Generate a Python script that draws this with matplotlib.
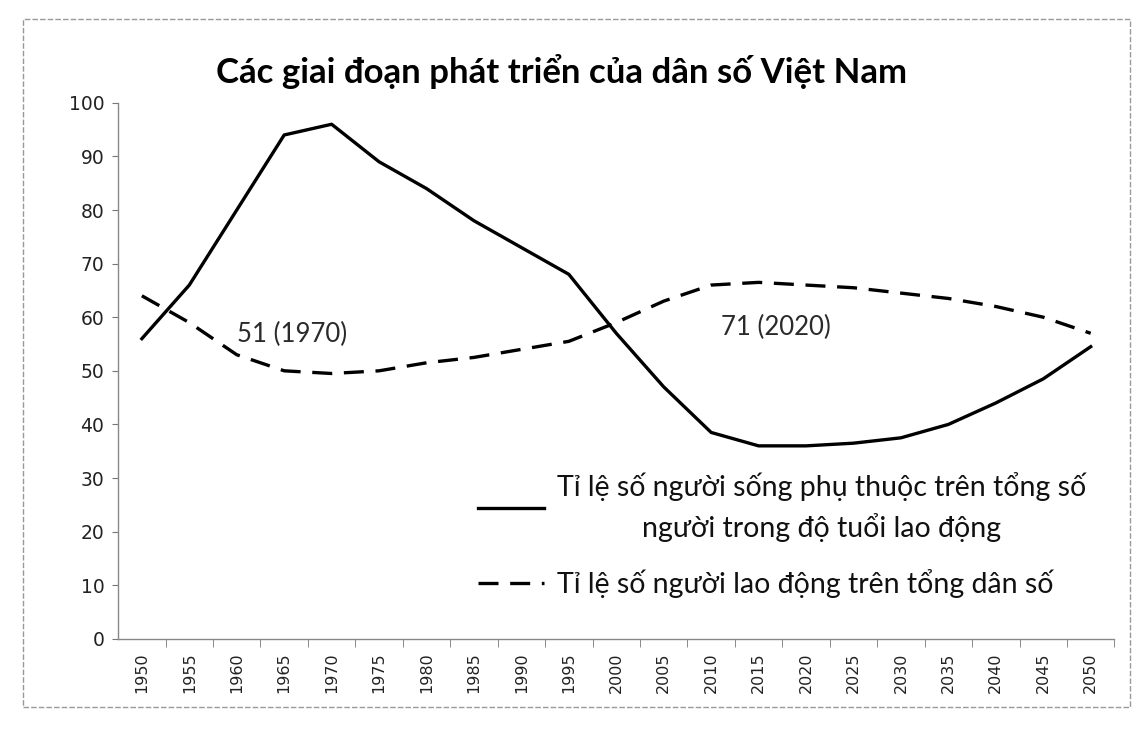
import matplotlib.pyplot as plt
from matplotlib.patches import Rectangle

years = ['1950', '1955', '1960', '1965', '1970', '1975', '1980', '1985', '1990', '1995', '2000',
         '2005', '2010', '2015', '2020', '2025', '2030', '2035', '2040', '2045', '2050']
# ti le phu thuoc (duong lien) va ti le lao dong (duong dut)
dependency = [56, 66, 80, 94, 96, 89, 84, 78, 73, 68, 57,
              47, 38.5, 36, 36, 36.5, 37.5, 40, 44, 48.5, 54.5]
labour = [64, 59, 53, 50, 49.5, 50, 51.5, 52.5, 54, 55.5, 59,
          63, 66, 66.5, 66, 65.5, 64.5, 63.5, 62, 60, 57]

title = 'Các giai đoạn phát triển của dân số Việt Nam'
label_dep = 'Tỉ lệ số người sống phụ thuộc trên tổng số\nngười trong độ tuổi lao động'
label_lab = 'Tỉ lệ số người lao động trên tổng dân số'
notes = ['51 (1970)', '71 (2020)']
note_pos = [(2.0, 56.7), (12.2, 58.0)]

plt.rcParams['font.family'] = ['Lato', 'DejaVu Sans']

fig = plt.figure(figsize=(11.36, 7.56), dpi=100)
ax = fig.add_axes([0.104, 0.155, 0.877, 0.709])

x = range(len(years))
ax.plot(x, dependency, color='black', lw=2.4, label=label_dep)
ax.plot(x, labour, color='black', lw=2.4, linestyle=(0, (6, 3.5)), label=label_lab)

for txt, (px, py) in zip(notes, note_pos):
    ax.text(px, py, txt, fontsize=18.5, va='center', ha='left', color='#2a2a2a')

ax.set_xlim(-0.5, len(years) - 0.5)
ax.set_ylim(0, 100)
ax.set_yticks(range(0, 101, 10))
ax.set_yticklabels([str(v) for v in range(0, 101, 10)], family='DejaVu Sans', fontsize=13.5, color='#222222')
ax.set_xticks(list(x))
ax.set_xticklabels(years, rotation=90, family='DejaVu Sans', fontsize=11.5, color='#222222')
ax.set_xticks([i + 0.5 for i in range(len(years))], minor=True)
ax.tick_params(axis='x', which='major', length=0, pad=10)
ax.tick_params(axis='x', which='minor', length=6, color='#777777', direction='out')
ax.tick_params(axis='y', length=4, color='#777777', pad=6)

for s in ['top', 'right']:
    ax.spines[s].set_visible(False)
for s in ['left', 'bottom']:
    ax.spines[s].set_color('#888888')
    ax.spines[s].set_linewidth(1.0)

leg = ax.legend(loc='lower right', bbox_to_anchor=(0.997, 0.028), frameon=False,
                fontsize=20.5, handlelength=2.3, handletextpad=0.45, labelspacing=0.95)
for t in leg.get_texts():
    t.set_multialignment('center')
    t.set_linespacing(1.5)
    t.set_color('#111111')

fig.text(0.494, 0.905, title, ha='center', va='center', fontsize=25, fontweight='bold')

# khung bao ngoai
fig.patches.append(Rectangle((0.02, 0.065), 0.975, 0.91, transform=fig.transFigure,
                             fill=False, edgecolor='#999999', lw=1.0, linestyle=(0, (4, 1.5))))

fig.savefig('out.png', dpi=100)
